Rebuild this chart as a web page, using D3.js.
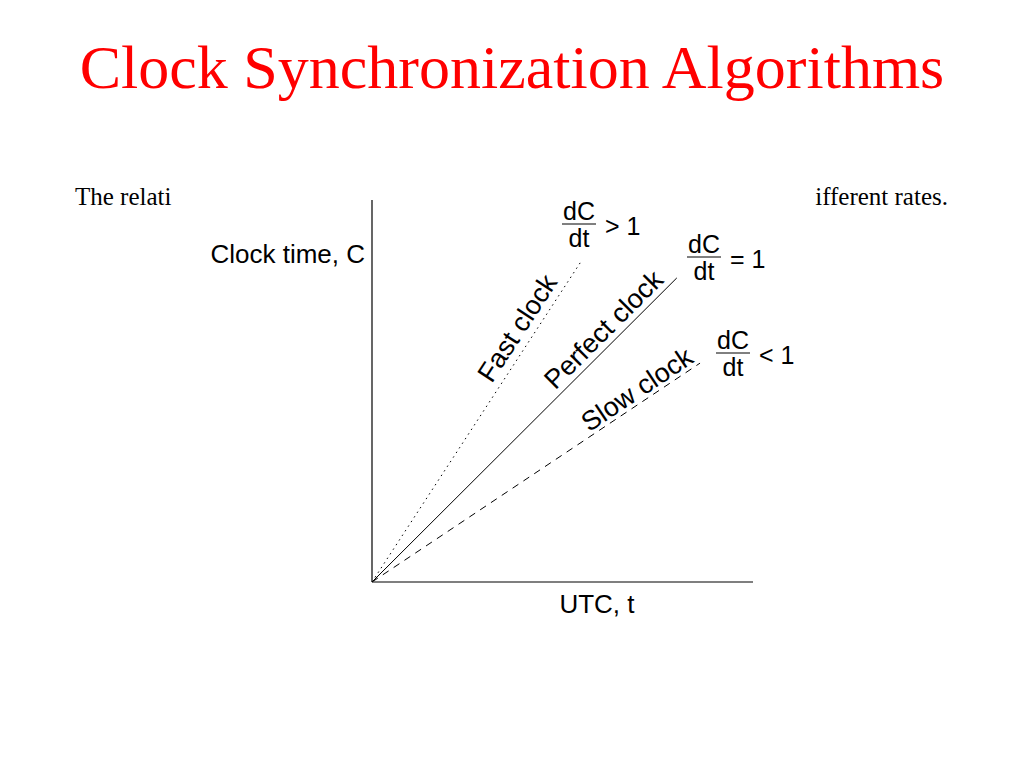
<!DOCTYPE html>
<html><head><meta charset="utf-8">
<script src="https://cdn.jsdelivr.net/npm/d3@7"></script>
<style>body{margin:0;background:#fff}</style>
</head><body>
<script>
// clocks: end point of each line, in UTC / clock-time units
const clockNames = ['Fast clock', 'Perfect clock', 'Slow clock'];
const clockT = [0.548, 0.800, 0.861];
const clockC = [0.838, 0.796, 0.573];
const clockOps = ['>', '=', '<'];

const svg = d3.select('body').append('svg').attr('width', 1024).attr('height', 768);

svg.append('text').attr('x', 512).attr('y', 88).attr('text-anchor', 'middle')
  .attr('font-family', 'Liberation Serif').attr('font-size', 62).attr('fill', '#ff0000')
  .text('Clock Synchronization Algorithms');

svg.append('text').attr('x', 75).attr('y', 205).attr('font-family', 'Liberation Serif')
  .attr('font-size', 25).text('The relati');
svg.append('text').attr('x', 948).attr('y', 205).attr('text-anchor', 'end')
  .attr('font-family', 'Liberation Serif').attr('font-size', 25).text('ifferent rates.');

const x = d3.scaleLinear().domain([0, 1]).range([372, 753]);
const y = d3.scaleLinear().domain([0, 1]).range([582, 200]);

const ax = svg.append('g').attr('stroke', '#000').attr('stroke-width', 1.2);
ax.append('line').attr('x1', x(0)).attr('x2', x(0)).attr('y1', y(0)).attr('y2', y(1));
ax.append('line').attr('x1', x(0)).attr('x2', x(1)).attr('y1', y(0)).attr('y2', y(0));

const sans = 'Liberation Sans';
svg.append('text').attr('x', 365).attr('y', 263).attr('text-anchor', 'end')
  .attr('font-family', sans).attr('font-size', 26).text('Clock time, C');
svg.append('text').attr('x', 597).attr('y', 613).attr('text-anchor', 'middle')
  .attr('font-family', sans).attr('font-size', 26).text('UTC, t');

const dashes = ['1.5,4', null, '7,6'];
clockNames.forEach((n, i) => {
  svg.append('line').attr('x1', x(0)).attr('y1', y(0))
    .attr('x2', x(clockT[i])).attr('y2', y(clockC[i]))
    .attr('stroke', '#000').attr('stroke-width', 1)
    .attr('stroke-dasharray', dashes[i]);
});

// rotated line labels
const labPos = [[525, 333], [610, 336], [642, 397]];
clockNames.forEach((n, i) => {
  const ang = -Math.atan2(y(0) - y(clockC[i]), x(clockT[i]) - x(0)) * 180 / Math.PI;
  svg.append('text').attr('transform', `translate(${labPos[i]}) rotate(${ang})`)
    .attr('text-anchor', 'middle').attr('font-family', sans).attr('font-size', 27)
    .text(n);
});

// dC/dt annotations
const fracPos = [[579, 224], [704, 257], [733, 353]];
clockOps.forEach((op, i) => {
  const [cx, cy] = fracPos[i];
  const g = svg.append('g').attr('font-family', sans).attr('font-size', 25);
  g.append('text').attr('x', cx).attr('y', cy - 4).attr('text-anchor', 'middle').text('dC');
  g.append('line').attr('x1', cx - 17).attr('x2', cx + 17).attr('y1', cy).attr('y2', cy)
    .attr('stroke', '#000').attr('stroke-width', 1);
  g.append('text').attr('x', cx).attr('y', cy + 23).attr('text-anchor', 'middle').text('dt');
  g.append('text').attr('x', cx + 26).attr('y', cy + 11).text(op + ' 1');
});
</script>
</body></html>
